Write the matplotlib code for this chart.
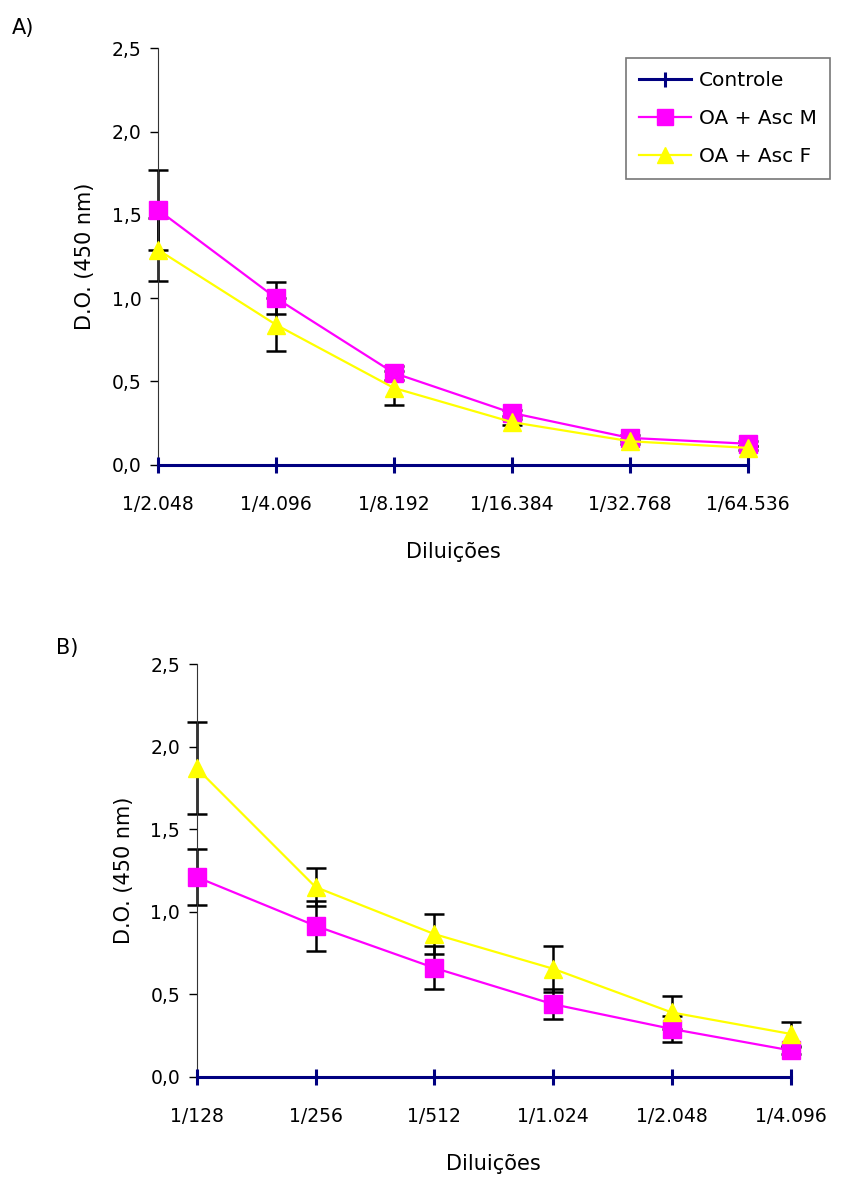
import matplotlib

matplotlib.use("Agg")
import matplotlib.pyplot as plt
from matplotlib.ticker import FuncFormatter

plt.rcParams["font.family"] = ["DejaVu Sans"]

SERIES = ("Controle", "OA + Asc M", "OA + Asc F")

# Panel A: dilutions 1/2.048 .. 1/64.536
dil_a = ["1/2.048", "1/4.096", "1/8.192", "1/16.384", "1/32.768", "1/64.536"]
ctrl_a = [0.0, 0.0, 0.0, 0.0, 0.0, 0.0]
asc_m_a = [1.53, 1.00, 0.55, 0.31, 0.16, 0.125]
asc_m_a_err = [0.24, 0.095, 0.04, 0.02, 0.02, 0.015]
asc_f_a = [1.29, 0.84, 0.46, 0.255, 0.14, 0.10]
asc_f_a_err = [0.19, 0.16, 0.10, 0.02, 0.015, 0.01]

# Panel B: dilutions 1/128 .. 1/4.096
dil_b = ["1/128", "1/256", "1/512", "1/1.024", "1/2.048", "1/4.096"]
ctrl_b = [0.0, 0.0, 0.0, 0.0, 0.0, 0.0]
asc_m_b = [1.21, 0.915, 0.66, 0.44, 0.29, 0.16]
asc_m_b_err = [0.17, 0.15, 0.13, 0.09, 0.08, 0.02]
asc_f_b = [1.87, 1.15, 0.865, 0.655, 0.39, 0.26]
asc_f_b_err = [0.28, 0.115, 0.12, 0.14, 0.10, 0.075]

NAVY = "#000080"
MAGENTA = "#FF00FF"
YELLOW = "#FFFF00"


def draw_panel(ax, labels, ctrl, m, m_err, f, f_err, legend=False):
    x = list(range(len(labels)))
    ax.plot(x, ctrl, color=NAVY, lw=2.2, marker="|", ms=12, mew=2.2,
            label=SERIES[0], clip_on=False, zorder=3)
    for vals, errs in ((m, m_err), (f, f_err)):
        ax.errorbar(x, vals, yerr=errs, fmt="none", ecolor="black", elinewidth=1.8,
                    capsize=7, capthick=1.8, clip_on=False, zorder=2)
    ax.plot(x, m, color=MAGENTA, lw=1.6, marker="s", ms=12.5, mec=MAGENTA,
            label=SERIES[1], clip_on=False, zorder=4)
    ax.plot(x, f, color=YELLOW, lw=1.6, marker="^", ms=13.5, mec=YELLOW,
            label=SERIES[2], clip_on=False, zorder=4)

    ax.set_xlim(0, len(labels) - 1)
    ax.set_ylim(0, 2.5)
    ax.set_yticks([0, 0.5, 1.0, 1.5, 2.0, 2.5])
    ax.yaxis.set_major_formatter(FuncFormatter(lambda v, _: f"{v:.1f}".replace(".", ",")))
    ax.set_xticks(x)
    ax.set_xticklabels(labels)
    ax.tick_params(axis="x", length=0, pad=22, labelsize=13.5)
    ax.tick_params(axis="y", length=6, width=1, pad=6, labelsize=13.5, direction="out")
    for side in ("top", "right", "bottom"):
        ax.spines[side].set_visible(False)
    ax.spines["left"].set_color("#333333")
    ax.set_xlabel("Diluições", fontsize=15, labelpad=20)
    ax.set_ylabel("D.O. (450 nm)", fontsize=15, labelpad=12)
    if legend:
        leg = ax.legend(loc="upper left", bbox_to_anchor=(0.744, 0.951),
                        bbox_transform=ax.figure.transFigure, borderaxespad=0,
                        fontsize=14.5, frameon=True, fancybox=False,
                        handlelength=2.6, handletextpad=0.4, labelspacing=0.95,
                        borderpad=0.65, markerscale=0.9)
        leg.get_frame().set_edgecolor("#555555")
        leg.get_frame().set_linewidth(1.2)


fig = plt.figure(figsize=(8.41, 11.82), dpi=100)
ax_a = fig.add_axes([0.188, 0.607, 0.701, 0.352])
ax_b = fig.add_axes([0.234, 0.089, 0.706, 0.349])

draw_panel(ax_a, dil_a, ctrl_a, asc_m_a, asc_m_a_err, asc_f_a, asc_f_a_err, legend=True)
draw_panel(ax_b, dil_b, ctrl_b, asc_m_b, asc_m_b_err, asc_f_b, asc_f_b_err)

fig.text(0.014, 0.976, "A)", fontsize=15, va="center")
fig.text(0.066, 0.452, "B)", fontsize=15, va="center")

fig.savefig("out.png", dpi=100)
plt.close(fig)
